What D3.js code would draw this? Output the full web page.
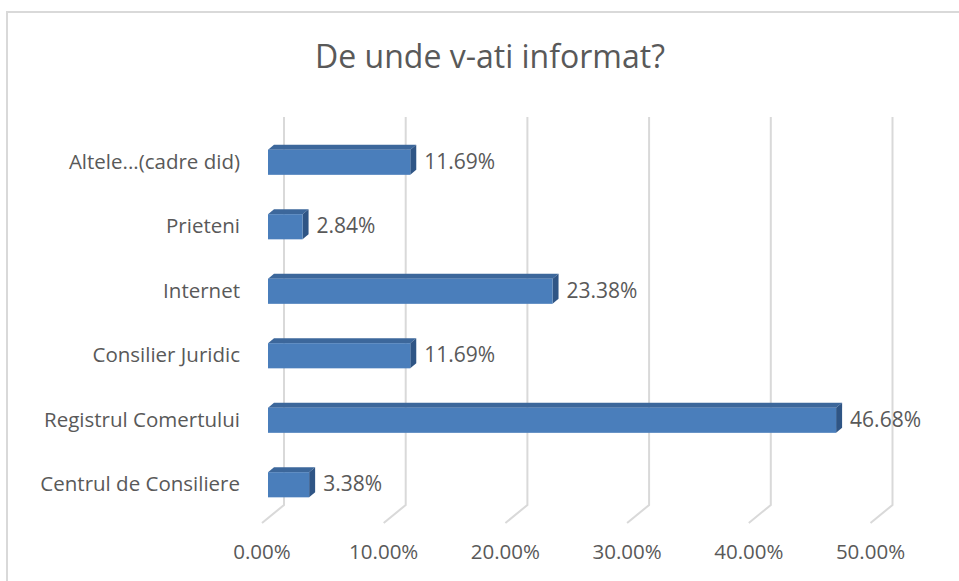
<!DOCTYPE html>
<html>
<head>
<meta charset="utf-8">
<script src="https://cdn.jsdelivr.net/npm/d3@7"></script>
<style>
  html, body { margin: 0; padding: 0; background: #fff; }
  svg { display: block; }
  text { font-family: "Open Sans", "Noto Sans", sans-serif; fill: #595959; }
</style>
</head>
<body>
<svg id="chart" width="959" height="581"></svg>
<script>
const title = "De unde v-ati informat?";
const categories = ["Altele...(cadre did)", "Prieteni", "Internet", "Consilier Juridic", "Registrul Comertului", "Centrul de Consiliere"];
const values = [11.69, 2.84, 23.38, 11.69, 46.68, 3.38];
const ticks = [0, 10, 20, 30, 40, 50];

const svg = d3.select("#chart");
const W = 959, H = 581;

// chart border
svg.append("rect").attr("x", 7).attr("y", 12).attr("width", W + 10).attr("height", H + 10)
  .attr("fill", "#fff").attr("stroke", "#d9d9d9").attr("stroke-width", 2);

// title
svg.append("text").attr("x", 490).attr("y", 68).attr("text-anchor", "middle")
  .style("font-size", "32px").text(title);

// 3D depth offsets
const back = { dx: 22, dy: -18 };     // floor front -> back wall
const barOff = { dx: 6, dy: -5 };     // bar depth
const barFront = 6;                   // bar front face x-offset from floor front

const x = d3.scaleLinear().domain([0, 50]).range([262, 870.5]);
const y = d3.scaleBand().domain(categories).range([130, 517]).paddingInner(0.61).paddingOuter(0.305);

const floorY = 523;
const wallTop = 117;

// gridlines: back wall verticals + floor diagonals
const grid = svg.append("g").attr("stroke", "#d9d9d9").attr("stroke-width", 2).attr("fill", "none");
ticks.forEach(t => {
  const xb = x(t) + back.dx, yb = floorY + back.dy;
  grid.append("path").attr("d", `M${xb},${wallTop} L${xb},${yb} L${x(t)},${floorY}`);
});

// axis tick labels
svg.append("g").selectAll("text").data(ticks).join("text")
  .attr("x", d => x(d)).attr("y", 559).attr("text-anchor", "middle")
  .style("font-size", "20.5px")
  .text(d => d3.format(".2f")(d) + "%");

// bars
const bars = svg.append("g").selectAll("g").data(categories.map((c, i) => ({ c, v: values[i] }))).join("g");
bars.each(function(d) {
  const g = d3.select(this);
  const x0 = x(0) + barFront, x1 = x(d.v) + barFront;
  const y0 = y(d.c), y1 = y(d.c) + y.bandwidth();
  // top face
  g.append("path").attr("fill", "#3c679b")
    .attr("d", `M${x0},${y0} L${x0 + barOff.dx},${y0 + barOff.dy} L${x1 + barOff.dx},${y0 + barOff.dy} L${x1},${y0} Z`);
  // side face
  g.append("path").attr("fill", "#2f5585")
    .attr("d", `M${x1},${y0} L${x1 + barOff.dx},${y0 + barOff.dy} L${x1 + barOff.dx},${y1 + barOff.dy} L${x1},${y1} Z`);
  // front face
  g.append("rect").attr("x", x0).attr("y", y0).attr("width", x1 - x0).attr("height", y1 - y0)
    .attr("fill", "#4a7ebb");
  // value label
  g.append("text").attr("x", x1 + barOff.dx + 8).attr("y", (y0 + y1) / 2 + 1)
    .attr("dominant-baseline", "middle").style("font-size", "21px")
    .text(d3.format(".2f")(d.v) + "%");
});

// category labels
svg.append("g").selectAll("text").data(categories).join("text")
  .attr("x", 240).attr("y", d => y(d) + y.bandwidth() / 2 + 1)
  .attr("text-anchor", "end").attr("dominant-baseline", "middle")
  .style("font-size", "20.5px")
  .text(d => d);
</script>
</body>
</html>
